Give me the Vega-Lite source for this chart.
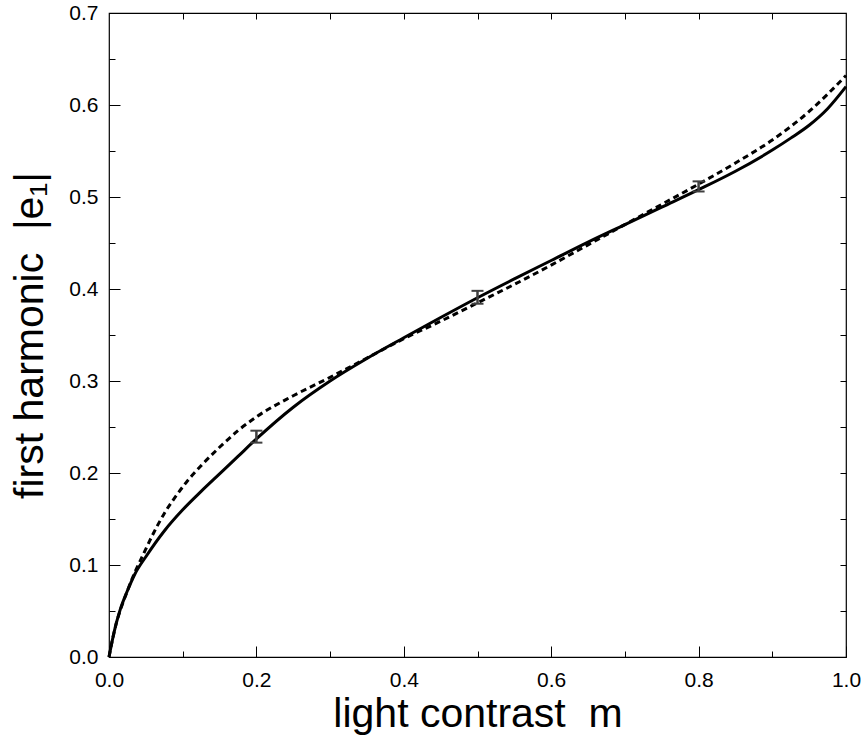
{
  "$schema": "https://vega.github.io/schema/vega-lite/v6.json",
  "width": 737,
  "height": 644,
  "autosize": "none",
  "padding": {"left": 109, "top": 13, "right": 18, "bottom": 86},
  "background": "white",
  "config": {
    "view": {"stroke": "black", "strokeWidth": 1.2},
    "axis": {
      "domain": false,
      "grid": false,
      "labelFont": "Liberation Sans",
      "titleFont": "Liberation Sans",
      "labelFontSize": 21,
      "titleFontSize": 41,
      "titleFontWeight": "normal",
      "labelColor": "black",
      "titleColor": "black",
      "tickColor": "black",
      "tickWidth": 1,
      "labelFlush": false,
      "labelOverlap": false
    }
  },
  "datasets": {
    "solid": [
      {"m": 0, "e": 0},
      {"m": 0.005, "e": 0.02},
      {"m": 0.01, "e": 0.037},
      {"m": 0.015, "e": 0.051},
      {"m": 0.025, "e": 0.072},
      {"m": 0.035, "e": 0.09},
      {"m": 0.05, "e": 0.109},
      {"m": 0.075, "e": 0.137},
      {"m": 0.1, "e": 0.16},
      {"m": 0.125, "e": 0.18},
      {"m": 0.15, "e": 0.199},
      {"m": 0.175, "e": 0.218},
      {"m": 0.2, "e": 0.237},
      {"m": 0.25, "e": 0.2715},
      {"m": 0.3, "e": 0.3},
      {"m": 0.35, "e": 0.3245},
      {"m": 0.4, "e": 0.347},
      {"m": 0.45, "e": 0.369},
      {"m": 0.5, "e": 0.3905},
      {"m": 0.55, "e": 0.411},
      {"m": 0.6, "e": 0.431},
      {"m": 0.65, "e": 0.451},
      {"m": 0.7, "e": 0.47},
      {"m": 0.75, "e": 0.489},
      {"m": 0.8, "e": 0.508},
      {"m": 0.85, "e": 0.528},
      {"m": 0.9, "e": 0.551},
      {"m": 0.925, "e": 0.564},
      {"m": 0.95, "e": 0.578},
      {"m": 0.975, "e": 0.596},
      {"m": 1.0, "e": 0.62}
    ],
    "dashed": [
      {"m": 0, "e": 0},
      {"m": 0.005, "e": 0.02},
      {"m": 0.01, "e": 0.037},
      {"m": 0.015, "e": 0.05},
      {"m": 0.025, "e": 0.072},
      {"m": 0.035, "e": 0.092},
      {"m": 0.045, "e": 0.109},
      {"m": 0.06, "e": 0.134},
      {"m": 0.075, "e": 0.156},
      {"m": 0.09, "e": 0.174},
      {"m": 0.105, "e": 0.19},
      {"m": 0.125, "e": 0.208},
      {"m": 0.15, "e": 0.228},
      {"m": 0.175, "e": 0.246},
      {"m": 0.2, "e": 0.261},
      {"m": 0.25, "e": 0.284},
      {"m": 0.3, "e": 0.304},
      {"m": 0.35, "e": 0.325},
      {"m": 0.4, "e": 0.346},
      {"m": 0.45, "e": 0.365},
      {"m": 0.5, "e": 0.385},
      {"m": 0.55, "e": 0.405},
      {"m": 0.6, "e": 0.426},
      {"m": 0.65, "e": 0.448},
      {"m": 0.7, "e": 0.47},
      {"m": 0.75, "e": 0.492},
      {"m": 0.8, "e": 0.514},
      {"m": 0.85, "e": 0.537},
      {"m": 0.9, "e": 0.562},
      {"m": 0.95, "e": 0.593},
      {"m": 1.0, "e": 0.632}
    ],
    "errors": [
      {"m": 0.2, "lo": 0.233, "hi": 0.246},
      {"m": 0.5, "lo": 0.384, "hi": 0.398},
      {"m": 0.8, "lo": 0.506, "hi": 0.517}
    ]
  },
  "layer": [
    {
      "data": {"name": "solid"},
      "mark": {"type": "line", "color": "black", "strokeWidth": 3, "interpolate": "monotone"},
      "encoding": {
        "x": {
          "field": "m", "type": "quantitative",
          "scale": {"domain": [0, 1], "nice": false},
          "axis": {"orient": "bottom", "values": [0, 0.2, 0.4, 0.6, 0.8, 1.0], "format": ".1f", "tickSize": -11, "labelPadding": 23, "title": "light contrast\u00a0\u00a0m", "titlePadding": 4}
        },
        "y": {
          "field": "e", "type": "quantitative",
          "scale": {"domain": [0, 0.7], "nice": false},
          "axis": {"orient": "left", "values": [0, 0.1, 0.2, 0.3, 0.4, 0.5, 0.6, 0.7], "format": ".1f", "tickSize": -11, "labelPadding": 22, "title": "first harmonic\u00a0\u00a0|e₁|", "titlePadding": 17}
        }
      }
    },
    {
      "data": {"name": "dashed"},
      "mark": {"type": "line", "color": "black", "strokeWidth": 3, "strokeDash": [6, 4], "interpolate": "monotone"},
      "encoding": {
        "x": {
          "field": "m", "type": "quantitative",
          "axis": {"orient": "bottom", "values": [0.1, 0.3, 0.5, 0.7, 0.9], "tickSize": -6, "labels": false, "title": null}
        },
        "y": {
          "field": "e", "type": "quantitative",
          "axis": {"orient": "left", "values": [0.05, 0.15, 0.25, 0.35, 0.45, 0.55, 0.65], "tickSize": -6, "labels": false, "title": null}
        }
      }
    },
    {
      "data": {"name": "errors"},
      "mark": {"type": "rule", "color": "#404040", "strokeWidth": 2.5},
      "encoding": {
        "x": {
          "field": "m", "type": "quantitative",
          "axis": {"orient": "top", "values": [0.1, 0.2, 0.3, 0.4, 0.5, 0.6, 0.7, 0.8, 0.9], "tickSize": -6, "labels": false, "title": null}
        },
        "y": {
          "field": "lo", "type": "quantitative",
          "axis": {"orient": "right", "values": [0.05, 0.1, 0.15, 0.2, 0.25, 0.3, 0.35, 0.4, 0.45, 0.5, 0.55, 0.6, 0.65], "tickSize": -6, "labels": false, "title": null}
        },
        "y2": {"field": "hi"}
      }
    },
    {
      "data": {"name": "errors"},
      "mark": {"type": "tick", "orient": "horizontal", "size": 12, "thickness": 2, "color": "#404040", "opacity": 1},
      "encoding": {
        "x": {"field": "m", "type": "quantitative", "axis": null},
        "y": {"field": "lo", "type": "quantitative", "axis": null}
      }
    },
    {
      "data": {"name": "errors"},
      "mark": {"type": "tick", "orient": "horizontal", "size": 12, "thickness": 2, "color": "#404040", "opacity": 1},
      "encoding": {
        "x": {"field": "m", "type": "quantitative", "axis": null},
        "y": {"field": "hi", "type": "quantitative", "axis": null}
      }
    }
  ],
  "resolve": {"axis": {"x": "independent", "y": "independent"}}
}
